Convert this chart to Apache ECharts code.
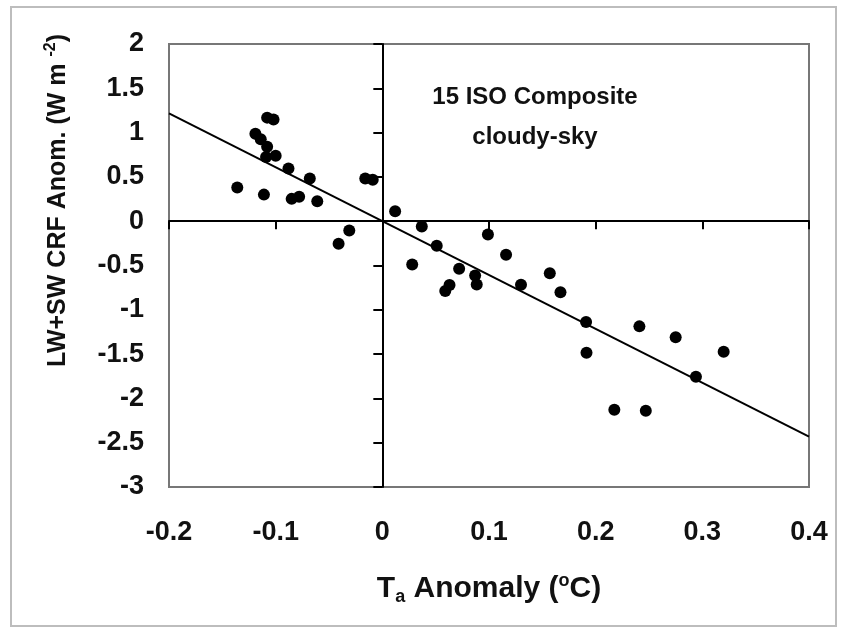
<!DOCTYPE html>
<html>
<head>
<meta charset="utf-8">
<script src="https://cdn.jsdelivr.net/npm/echarts@6/dist/echarts.min.js"></script>
<style>html,body{margin:0;padding:0;background:#fff}#c{width:843px;height:632px}</style>
</head>
<body>
<div id="c"></div>
<script>
// Axis ranges: [min, max, interval]
var xRange = [-0.2, 0.4, 0.1];
var yRange = [-3, 2, 0.5];
// Scatter data: Ta anomaly (°C) and LW+SW CRF anomaly (W m-2)
var tempAnom = [-0.136, -0.111, -0.108, -0.102, -0.119, -0.114, -0.108, -0.109, -0.100, -0.088,
  -0.085, -0.078, -0.068, -0.061, -0.016, -0.009, 0.012, -0.031, -0.041, 0.037,
  0.051, 0.028, 0.072, 0.087, 0.0885, 0.059, 0.063, 0.099, 0.116, 0.130,
  0.157, 0.167, 0.191, 0.1914, 0.241, 0.275, 0.320, 0.294, 0.2175, 0.247];
var crfAnom = [0.38, 0.30, 1.169, 1.148, 0.988, 0.925, 0.84, 0.725, 0.739, 0.594,
  0.252, 0.277, 0.481, 0.226, 0.481, 0.467, 0.113, -0.104, -0.255, -0.059,
  -0.276, -0.489, -0.537, -0.613, -0.715, -0.788, -0.721, -0.149, -0.379, -0.718,
  -0.587, -0.802, -1.137, -1.484, -1.187, -1.311, -1.473, -1.756, -2.129, -2.14];
// Regression line end points
var fitX = [-0.2, 0.4];
var fitY = [1.216, -2.431];
var titleLines = ['15 ISO Composite', 'cloudy-sky'];

var FONT = '"Liberation Sans", Arial, Helvetica, sans-serif';
var chart = echarts.init(document.getElementById('c'), null, {renderer: 'canvas'});

var scatterData = tempAnom.map(function (x, i) { return [x, crfAnom[i]]; });
var lineData = fitX.map(function (x, i) { return [x, fitY[i]]; });

var labelStyle = {fontFamily: FONT, fontWeight: 'bold', fontSize: 27, color: '#111'};

chart.setOption({
  backgroundColor: '#fff',
  animation: false,
  title: {
    text: titleLines.join('\n'),
    left: 530, top: 72, textAlign: 'center',
    textStyle: {fontFamily: FONT, fontWeight: 'bold', fontSize: 24, lineHeight: 40, color: '#111'}
  },
  graphic: [{
    type: 'rect', silent: true, z: -1,
    shape: {x: 11, y: 7, width: 825, height: 619},
    style: {fill: 'none', stroke: '#bdbdbd', lineWidth: 2}
  }],
  grid: {
    left: 169, right: 34, top: 44, bottom: 145,
    show: true, borderColor: '#777', borderWidth: 2, backgroundColor: 'transparent',
    containLabel: false, outerBoundsMode: 'none'
  },
  xAxis: [{
    type: 'value', min: xRange[0], max: xRange[1], interval: xRange[2], position: 'bottom',
    axisLine: {show: false}, axisTick: {show: false}, splitLine: {show: false},
    axisLabel: Object.assign({margin: 32}, labelStyle),
    name: '{b|T}{sub|a}{b| Anomaly (}{sup|o}{b|C)}',
    nameLocation: 'middle', nameGap: 85,
    nameTextStyle: {
      rich: {
        b: {fontFamily: FONT, fontWeight: 'bold', fontSize: 30, lineHeight: 34, color: '#111'},
        sub: {fontFamily: FONT, fontWeight: 'bold', fontSize: 18, lineHeight: 12, verticalAlign: 'bottom', color: '#111'},
        sup: {fontFamily: FONT, fontWeight: 'bold', fontSize: 18, lineHeight: 14, verticalAlign: 'top', color: '#111'}
      }
    }
  }, {
    type: 'value', min: xRange[0], max: xRange[1], interval: xRange[2], position: 'bottom',
    axisLine: {show: true, onZero: true, onZeroAxisIndex: 1, lineStyle: {color: '#000', width: 2}},
    axisTick: {show: true, length: 8, lineStyle: {color: '#000', width: 2}},
    axisLabel: {show: false}, splitLine: {show: false}
  }],
  yAxis: [{
    type: 'value', min: yRange[0], max: yRange[1], interval: yRange[2], position: 'left',
    axisLine: {show: false}, axisTick: {show: false}, splitLine: {show: false},
    axisLabel: Object.assign({margin: 25}, labelStyle),
    name: '{b|LW+SW CRF Anom. (W m }{sup|-2}{b|)}',
    nameLocation: 'middle', nameGap: 96,
    nameTextStyle: {
      padding: [0, 0, 0, 130],
      rich: {
        b: {fontFamily: FONT, fontWeight: 'bold', fontSize: 25, lineHeight: 30, color: '#111'},
        sup: {fontFamily: FONT, fontWeight: 'bold', fontSize: 16, lineHeight: 12, verticalAlign: 'top', color: '#111'}
      }
    }
  }, {
    type: 'value', min: yRange[0], max: yRange[1], interval: yRange[2], position: 'left',
    axisLine: {show: true, onZero: true, onZeroAxisIndex: 1, lineStyle: {color: '#000', width: 2}},
    axisTick: {show: true, length: 9, lineStyle: {color: '#000', width: 2}},
    axisLabel: {show: false}, splitLine: {show: false}
  }],
  series: [{
    type: 'line', data: lineData, xAxisIndex: 0, yAxisIndex: 0,
    symbol: 'none', lineStyle: {color: '#000', width: 2}, z: 3, silent: true
  }, {
    type: 'scatter', data: scatterData, xAxisIndex: 0, yAxisIndex: 0,
    symbol: 'circle', symbolSize: 12, itemStyle: {color: '#000', opacity: 1}, z: 4, silent: true
  }]
});
</script>
</body>
</html>
